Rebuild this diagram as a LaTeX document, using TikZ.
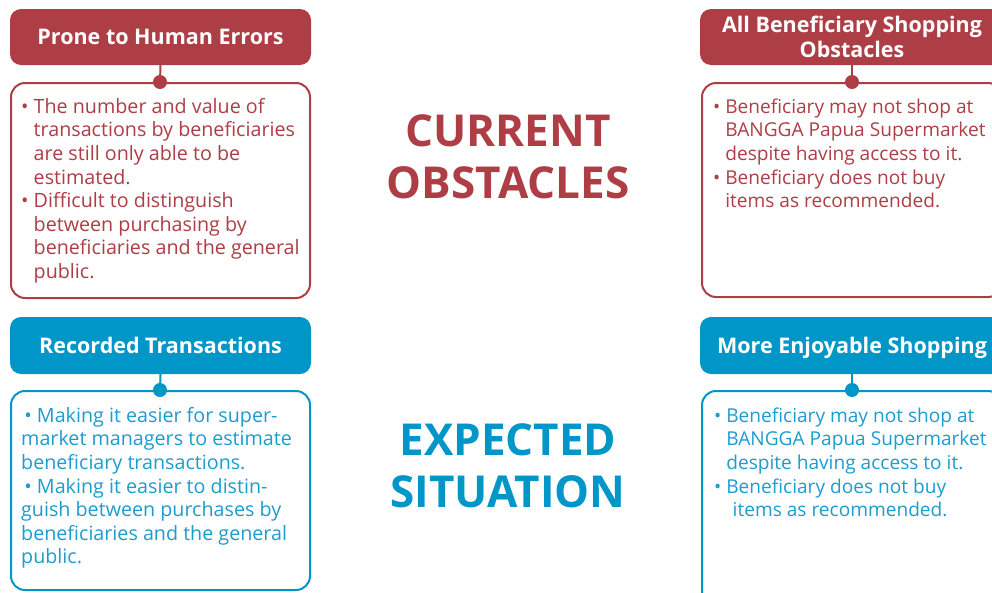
\documentclass[tikz,border=0pt]{standalone}
\usepackage{fontspec}
\setmainfont{Open Sans}
\definecolor{obsred}{HTML}{AE3E45}
\definecolor{expblue}{HTML}{0096C8}
\definecolor{expbluetext}{HTML}{1C9CCF}
\begin{document}
\begin{tikzpicture}[x=1pt,y=-1pt,
  header/.style={fill=#1, draw=none, rounded corners=11pt, text=white,
    font=\fontsize{21.5}{25.5}\selectfont\bfseries, align=center, inner sep=0pt},
  bodybox/.style={draw=#1, line width=2pt, rounded corners=14pt, fill=white, inner sep=0pt},
  dot/.style={circle, fill=#1, inner sep=0pt, minimum size=14pt},
  link/.style={draw=#1, line width=2pt},
  bodytext/.style={text=#1, anchor=north west, inner sep=0pt, align=left,
    font=\fontsize{19.7}{23.6}\selectfont},
  righttext/.style={bodytext=#1, font=\fontsize{19.1}{23.6}\selectfont},
  title/.style={text=#1, font=\fontsize{44}{51.5}\selectfont\bfseries, align=center, inner sep=0pt}
]
\useasboundingbox (0,0) rectangle (992,592);
\clip (0,0) rectangle (992,592);

% ---------- top left ----------
\node[header=obsred, minimum width=301pt, minimum height=56pt] (h1) at (160.5,37) {Prone to Human Errors};
\node[bodybox=obsred, minimum width=299pt, minimum height=215pt] (b1) at (160.5,190.5) {};
\node[dot=obsred] (d1) at (160,82) {};
\draw[link=obsred] (h1.south) -- (d1.center);
\node[bodytext=obsred] (t1) at (21,98) {\rule{0pt}{15pt}• The number and value of\\
\phantom{• }transactions by beneficiaries\\
\phantom{• }are still only able to be\\
\phantom{• }estimated.\\
• Difficult to distinguish\\
\phantom{• }between purchasing by\\
\phantom{• }beneficiaries and the general\\
\phantom{• }public.};

% ---------- top right ----------
\node[header=obsred, minimum width=304pt, minimum height=56pt] (h2) at (852,37) {All Beneficiary Shopping\\Obstacles};
\node[bodybox=obsred, minimum width=300pt, minimum height=214pt] (b2) at (852,190) {};
\node[dot=obsred] (d2) at (852,82) {};
\draw[link=obsred] (h2.south) -- (d2.center);
\node[righttext=obsred] (t2) at (713,98) {\rule{0pt}{15pt}• Beneficiary may not shop at\\
\phantom{• }BANGGA Papua Supermarket\\
\phantom{• }despite having access to it.\\
• Beneficiary does not buy\\
\phantom{• }items as recommended.};

% ---------- centre titles ----------
\node[title=obsred] (c1) at (508,157) {CURRENT\\OBSTACLES};
\node[title=expblue] (c2) at (508,466) {EXPECTED\\SITUATION};

% ---------- bottom left ----------
\node[header=expblue, minimum width=301pt, minimum height=57pt] (h3) at (160.5,345.5) {Recorded Transactions};
\node[bodybox=expblue, minimum width=299pt, minimum height=199pt] (b3) at (160.5,490.5) {};
\node[dot=expblue] (d3) at (160,390) {};
\draw[link=expblue] (h3.south) -- (d3.center);
\node[bodytext=expbluetext] (t3) at (21,407) {\rule{0pt}{15pt}\,• Making it easier for super-\\
market managers to estimate\\
beneficiary transactions.\\
\,• Making it easier to distin-\\
guish between purchases by\\
beneficiaries and the general\\
public.};

% ---------- bottom right ----------
\node[header=expblue, minimum width=304pt, minimum height=57pt, text depth=0pt] (h4) at (852,345.5) {More Enjoyable Shopping};
\node[bodybox=expblue, minimum width=300pt, minimum height=230pt] (b4) at (852,506) {};
\node[dot=expblue] (d4) at (852,390) {};
\draw[link=expblue] (h4.south) -- (d4.center);
\node[righttext=expbluetext] (t4) at (714,407) {\rule{0pt}{15pt}• Beneficiary may not shop at\\
\phantom{• }BANGGA Papua Supermarket\\
\phantom{• }despite having access to it.\\
• Beneficiary does not buy\\
\phantom{• }\,\,items as recommended.};
\end{tikzpicture}
\end{document}
